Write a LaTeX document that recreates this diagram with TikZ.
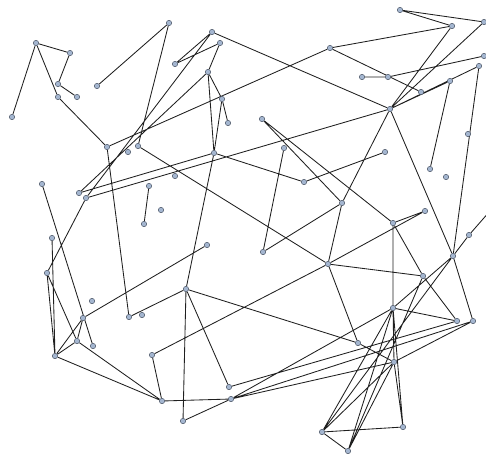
\documentclass[tikz,border=0pt]{standalone}
\usetikzlibrary{backgrounds}
\definecolor{vfill}{HTML}{A4B6D0}
\definecolor{vdraw}{HTML}{4E5868}
\tikzset{
  vtx/.style={circle,fill=vfill,draw=vdraw,line width=0.5pt,minimum size=5.4pt,inner sep=0pt},
  edg/.style={line width=0.85pt,draw=black!88}
}
\begin{document}
\begin{tikzpicture}[x=1pt,y=-1pt]
\useasboundingbox (0,0) rectangle (486,455);
\node[vtx] (n1) at (36,43) {};
\node[vtx] (n2) at (70,53) {};
\node[vtx] (n3) at (58,84) {};
\node[vtx] (n4) at (58,97) {};
\node[vtx] (n5) at (77,97) {};
\node[vtx] (n6) at (12,117) {};
\node[vtx] (n7) at (97,86) {};
\node[vtx] (n8) at (169,23) {};
\node[vtx] (n9) at (107,147) {};
\node[vtx] (n10) at (138,146) {};
\node[vtx] (n11) at (128,152) {};
\node[vtx] (n12) at (212,32) {};
\node[vtx] (n13) at (220,43) {};
\node[vtx] (n14) at (175,64) {};
\node[vtx] (n15) at (208,72) {};
\node[vtx] (n16) at (222,99) {};
\node[vtx] (n17) at (228,123) {};
\node[vtx] (n18) at (262,119) {};
\node[vtx] (n19) at (214,153) {};
\node[vtx] (n20) at (284,148) {};
\node[vtx] (n21) at (330,48) {};
\node[vtx] (n22) at (400,10) {};
\node[vtx] (n23) at (452,26) {};
\node[vtx] (n24) at (484,22) {};
\node[vtx] (n25) at (362,77) {};
\node[vtx] (n26) at (388,77) {};
\node[vtx] (n27) at (421,92) {};
\node[vtx] (n28) at (450,81) {};
\node[vtx] (n29) at (479,66) {};
\node[vtx] (n30) at (484,56) {};
\node[vtx] (n31) at (390,109) {};
\node[vtx] (n32) at (468,134) {};
\node[vtx] (n33) at (385,152) {};
\node[vtx] (n34) at (430,169) {};
\node[vtx] (n35) at (446,177) {};
\node[vtx] (n36) at (42,184) {};
\node[vtx] (n37) at (79,193) {};
\node[vtx] (n38) at (86,198) {};
\node[vtx] (n39) at (149,186) {};
\node[vtx] (n40) at (161,210) {};
\node[vtx] (n41) at (144,224) {};
\node[vtx] (n42) at (175,176) {};
\node[vtx] (n43) at (304,182) {};
\node[vtx] (n44) at (342,203) {};
\node[vtx] (n45) at (425,211) {};
\node[vtx] (n46) at (393,223) {};
\node[vtx] (n47) at (469,235) {};
\node[vtx] (n48) at (453,256) {};
\node[vtx] (n49) at (52,238) {};
\node[vtx] (n50) at (47,273) {};
\node[vtx] (n51) at (92,301) {};
\node[vtx] (n52) at (207,245) {};
\node[vtx] (n53) at (263,252) {};
\node[vtx] (n54) at (328,264) {};
\node[vtx] (n55) at (423,276) {};
\node[vtx] (n56) at (186,289) {};
\node[vtx] (n57) at (83,318) {};
\node[vtx] (n58) at (129,317) {};
\node[vtx] (n59) at (142,315) {};
\node[vtx] (n60) at (77,341) {};
\node[vtx] (n61) at (93,346) {};
\node[vtx] (n62) at (55,356) {};
\node[vtx] (n63) at (152,355) {};
\node[vtx] (n64) at (162,401) {};
\node[vtx] (n65) at (183,421) {};
\node[vtx] (n66) at (229,387) {};
\node[vtx] (n67) at (231,399) {};
\node[vtx] (n68) at (393,308) {};
\node[vtx] (n69) at (457,321) {};
\node[vtx] (n70) at (473,321) {};
\node[vtx] (n71) at (358,343) {};
\node[vtx] (n72) at (394,362) {};
\node[vtx] (n73) at (322,432) {};
\node[vtx] (n74) at (348,451) {};
\node[vtx] (n75) at (403,427) {};
\coordinate (e1) at (490,211);
\begin{scope}[on background layer]
\draw[edg] (n1)--(n6) (n1)--(n2) (n1)--(n4) (n2)--(n3) (n3)--(n5) (n4)--(n9)
  (n7)--(n8) (n8)--(n10) (n9)--(n21) (n9)--(n58)
  (n12)--(n14) (n13)--(n14) (n12)--(n31) (n13)--(n15) (n15)--(n19) (n15)--(n16)
  (n16)--(n17) (n16)--(n19) (n38)--(n12) (n37)--(n15)
  (n19)--(n56) (n19)--(n43) (n43)--(n33) (n20)--(n53) (n53)--(n44) (n18)--(n44) (n18)--(n46)
  (n37)--(n19) (n38)--(n31) (n10)--(n54)
  (n21)--(n23) (n21)--(n27) (n25)--(n26) (n26)--(n30) (n22)--(n23) (n22)--(n24)
  (n23)--(n31) (n24)--(n31) (n31)--(n29) (n31)--(n28) (n28)--(n34)
  (n31)--(n44) (n31)--(n48) (n29)--(n48) (n44)--(n54)
  (n46)--(n45) (n46)--(n68) (n46)--(n55) (n54)--(n45) (n54)--(n55) (n54)--(n71)
  (n48)--(n47) (n47)--(e1) (n48)--(n70) (n55)--(n69)
  (n68)--(n69) (n68)--(n72) (n68)--(n75) (n72)--(n75) (n68)--(n73) (n68)--(n74)
  (n72)--(n73) (n72)--(n74) (n73)--(n75) (n73)--(n74) (n70)--(n72) (n71)--(n72)
  (n56)--(n71) (n63)--(n54) (n63)--(n64) (n64)--(n67) (n65)--(n67) (n56)--(n65)
  (n56)--(n66) (n58)--(n56) (n66)--(n69) (n67)--(n68) (n67)--(n70) (n67)--(n72)
  (n52)--(n57) (n48)--(n68) (n55)--(n74) (n48)--(n73)
  (n36)--(n61) (n38)--(n50) (n49)--(n62) (n50)--(n62) (n50)--(n60)
  (n62)--(n57) (n62)--(n60) (n62)--(n64) (n60)--(n64) (n57)--(n60) (n39)--(n41);
\end{scope}
\end{tikzpicture}
\end{document}
